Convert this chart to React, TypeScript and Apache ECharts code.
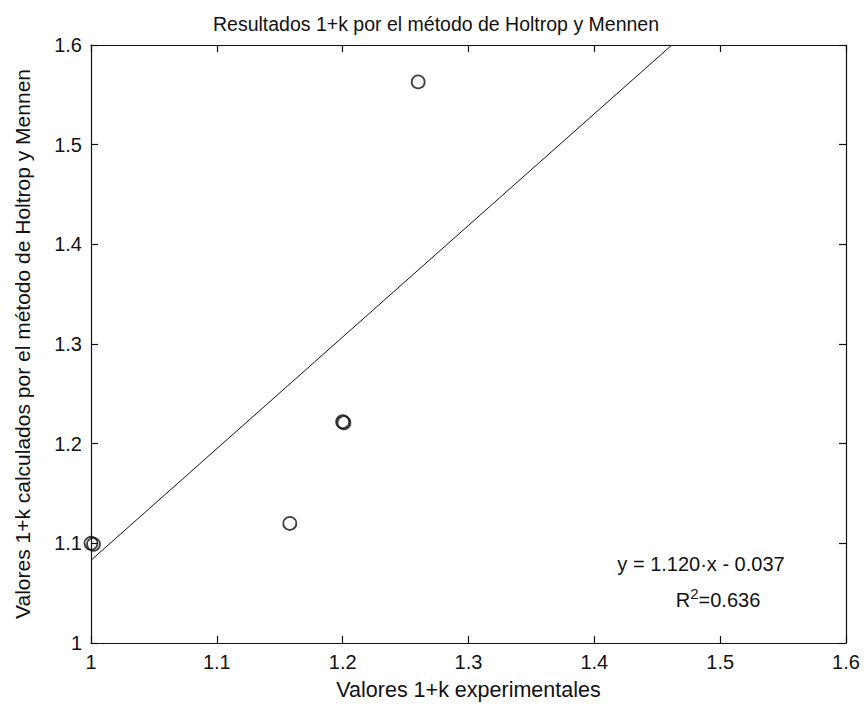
import React, { useEffect, useRef } from "react";
import * as echarts from "echarts";

// Measured 1+k values: experimental (x) vs Holtrop & Mennen prediction (y)
const experimental = [1.0, 1.002, 1.158, 1.2, 1.201, 1.26];
const holtropMennen = [1.1, 1.099, 1.12, 1.222, 1.221, 1.563];

// Least-squares fit reported on the chart
const fitSlope = 1.12;
const fitIntercept = -0.037;
const fitR2 = 0.636;

const axisMin = 1;
const axisMax = 1.6;
const axisStep = 0.1;

const FONT = "'Liberation Sans', Arial, Helvetica, sans-serif";
const INK = "#111";

export default function App() {
  const ref = useRef<HTMLDivElement>(null);

  useEffect(() => {
    if (!ref.current) return;
    const chart = echarts.init(ref.current, null, { renderer: "svg" });

    const points = experimental.map((x, i) => [x, holtropMennen[i]]);
    // fit line from x = 1 until it leaves the top of the plot
    const xEnd = (axisMax - fitIntercept) / fitSlope;
    const fitLine = [
      [axisMin, fitSlope * axisMin + fitIntercept],
      [xEnd, fitSlope * xEnd + fitIntercept],
    ];

    const baseAxis = {
      min: axisMin,
      max: axisMax,
      interval: axisStep,
      splitLine: { show: false },
      axisLine: { show: true, onZero: false, lineStyle: { color: INK, width: 1.2 } },
      axisTick: { show: true, inside: true, length: 7, lineStyle: { color: INK, width: 1.2 } },
    };

    chart.setOption({
      animation: false,
      backgroundColor: "#fff",
      title: {
        text: "Resultados 1+k por el método de Holtrop y Mennen",
        left: 431,
        top: 9,
        textAlign: "center",
        textStyle: { fontFamily: FONT, fontSize: 19.5, fontWeight: "normal", color: INK },
      },
      grid: { left: 91, right: 18, top: 45, bottom: 63 },
      xAxis: [
        {
          ...baseAxis,
          type: "value",
          position: "bottom",
          name: "Valores 1+k experimentales",
          nameLocation: "middle",
          nameGap: 36,
          nameTextStyle: { fontFamily: FONT, fontSize: 21.5, color: INK },
          axisLabel: { fontFamily: FONT, fontSize: 20, color: INK, margin: 9 },
        },
        {
          ...baseAxis,
          type: "value",
          position: "top",
          axisLabel: { show: false },
        },
      ],
      yAxis: [
        {
          ...baseAxis,
          type: "value",
          position: "left",
          name: "Valores 1+k calculados por el método de Holtrop y Mennen",
          nameLocation: "middle",
          nameGap: 58,
          nameTextStyle: { fontFamily: FONT, fontSize: 21, color: INK },
          axisLabel: { fontFamily: FONT, fontSize: 20, color: INK, margin: 9 },
        },
        {
          ...baseAxis,
          type: "value",
          position: "right",
          axisLabel: { show: false },
        },
      ],
      series: [
        {
          type: "line",
          data: fitLine,
          showSymbol: false,
          lineStyle: { color: INK, width: 1 },
          z: 2,
        },
        {
          type: "scatter",
          data: points,
          symbol: "circle",
          symbolSize: 13,
          itemStyle: { color: "rgba(255,255,255,0)", borderColor: INK, borderWidth: 1.8 },
          z: 3,
        },
      ],
      graphic: [
        {
          type: "text",
          x: 701,
          y: 564,
          style: {
            text: `y = ${fitSlope.toFixed(3)}·x - ${Math.abs(fitIntercept).toFixed(3)}`,
            fontFamily: FONT,
            fontSize: 20,
            fill: INK,
            align: "center",
            verticalAlign: "middle",
          },
        },
        {
          type: "text",
          x: 718,
          y: 598,
          style: {
            text: `{b|R}{s|2}{b|=${fitR2.toFixed(3)}}`,
            align: "center",
            verticalAlign: "middle",
            rich: {
              b: { fontFamily: FONT, fontSize: 20, fill: INK, color: INK, verticalAlign: "bottom", lineHeight: 24 },
              s: { fontFamily: FONT, fontSize: 15, fill: INK, color: INK, verticalAlign: "top", lineHeight: 24 },
            },
          },
        },
      ],
    });

    return () => chart.dispose();
  }, []);

  return (
    <div
      ref={ref}
      style={{ position: "absolute", left: 0, top: 0, width: 864, height: 706 }}
    />
  );
}
